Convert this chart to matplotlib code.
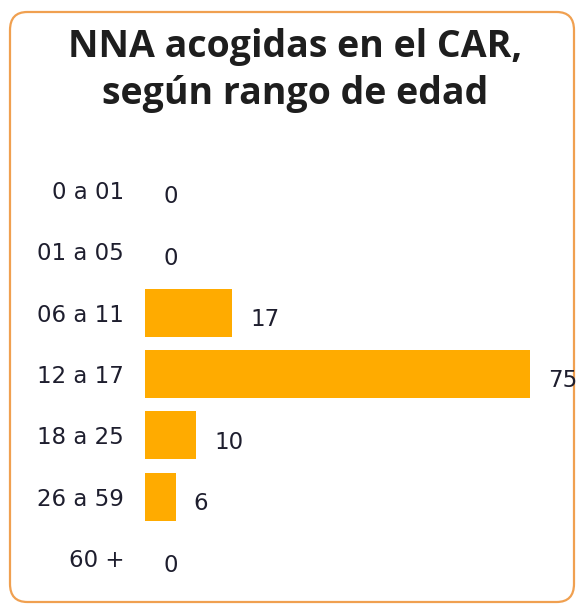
import matplotlib.pyplot as plt
from matplotlib.patches import FancyBboxPatch

# rangos de edad y NNA acogidas
rangos = ['0 a 01', '01 a 05', '06 a 11', '12 a 17', '18 a 25', '26 a 59', '60 +']
valores = [0, 0, 17, 75, 10, 6, 0]

fig = plt.figure(figsize=(5.77, 6.06), dpi=100)

# marco redondeado naranja
marco = FancyBboxPatch((10 / 577, 4 / 606), 564 / 577, 590 / 606,
                       boxstyle='round,pad=0,rounding_size=0.03',
                       transform=fig.transFigure, facecolor='none',
                       edgecolor='#F0A050', linewidth=1.6, zorder=-1)
fig.patches.append(marco)

fig.text(0.512, 0.884, 'NNA acogidas en el CAR,\nsegún rango de edad',
         ha='center', va='center', fontsize=27, fontweight='bold',
         family='Open Sans', color='#1e1e1e', linespacing=1.3)

ax = fig.add_axes([145 / 577, 1 - 589 / 606, 432 / 577, 430 / 606])
ax.patch.set_alpha(0)
y = list(range(len(rangos)))
bars = ax.barh(y, valores, height=0.78, color='#FFAB00', linewidth=0)
ax.set_xlim(0, 84.2)
ax.set_ylim(len(rangos) - 0.5, -0.5)
ax.set_yticks(y)
ax.set_yticklabels(rangos, fontsize=16.5, color='#1e1e2e')
ax.tick_params(axis='y', length=0, pad=15)
ax.set_xticks([])
for s in ax.spines.values():
    s.set_visible(False)

for i, v in enumerate(valores):
    ax.annotate(str(v), (v, i), xytext=(13, -5), textcoords='offset points',
                ha='left', va='center', fontsize=16.5, color='#1e1e2e')

fig.savefig('out.png', dpi=100)
